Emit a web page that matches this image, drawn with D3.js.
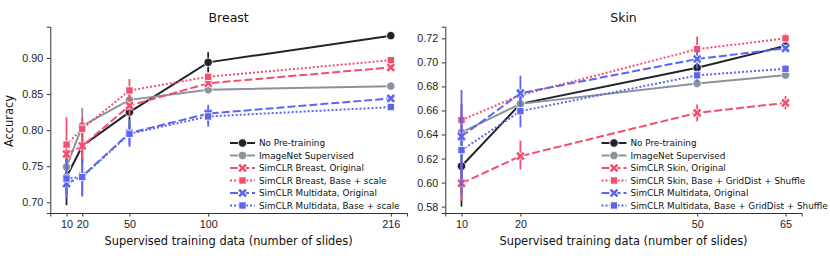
<!DOCTYPE html>
<html>
<head>
<meta charset="utf-8">
<script src="https://cdn.jsdelivr.net/npm/d3@7"></script>
<style>
  body { margin: 0; background: #fff; }
  svg { font-family: "DejaVu Sans", sans-serif; }
  .axis text { font-size: 10.8px; fill: #222; }
  .axis line, .axis path { stroke: #333; stroke-width: 1; }
</style>
</head>
<body>
<svg id="chart" width="830" height="259"></svg>
<script>
// Breast panel
var breastX = [10, 20, 50, 100, 216]
var breastNames = ["No Pre-training", "ImageNet Supervised", "SimCLR Breast, Original",
  "SimCLR Breast, Base + scale", "SimCLR Multidata, Original", "SimCLR Multidata, Base + scale"]
var breastMean = [
  [0.735, 0.778, 0.825, 0.894, 0.931],
  [0.749, 0.806, 0.842, 0.856, 0.861],
  [0.767, 0.778, 0.834, 0.865, 0.887],
  [0.780, 0.802, 0.855, 0.874, 0.897],
  [0.726, 0.736, 0.796, 0.823, 0.844],
  [0.733, 0.735, 0.795, 0.819, 0.832]
]
var breastLo = [
  [0.696, 0.755, 0.800, 0.880, 0.929],
  [0.735, 0.780, 0.835, 0.853, 0.859],
  [0.755, 0.755, 0.820, 0.860, 0.884],
  [0.745, 0.760, 0.840, 0.868, 0.894],
  [0.705, 0.708, 0.777, 0.810, 0.841],
  [0.712, 0.710, 0.780, 0.805, 0.829]
]
var breastHi = [
  [0.765, 0.800, 0.850, 0.908, 0.933],
  [0.765, 0.831, 0.850, 0.860, 0.863],
  [0.780, 0.800, 0.850, 0.870, 0.890],
  [0.818, 0.818, 0.871, 0.880, 0.900],
  [0.750, 0.760, 0.815, 0.835, 0.847],
  [0.760, 0.760, 0.810, 0.830, 0.835]
]
var breastTicks = [0.70, 0.75, 0.80, 0.85, 0.90]

// Skin panel
var skinX = [10, 20, 50, 65]
var skinNames = ["No Pre-training", "ImageNet Supervised", "SimCLR Skin, Original",
  "SimCLR Skin, Base + GridDist + Shuffle", "SimCLR Multidata, Original", "SimCLR Multidata, Base + GridDist + Shuffle"]
var skinMean = [
  [0.6136, 0.6655, 0.6955, 0.7138],
  [0.6417, 0.6655, 0.6825, 0.6894],
  [0.5994, 0.6220, 0.6580, 0.6663],
  [0.6520, 0.6728, 0.7110, 0.7200],
  [0.6383, 0.6744, 0.7028, 0.7117],
  [0.6270, 0.6594, 0.6892, 0.6947]
]
var skinLo = [
  [0.580, 0.660, 0.690, 0.711],
  [0.635, 0.662, 0.679, 0.688],
  [0.585, 0.611, 0.651, 0.661],
  [0.640, 0.668, 0.700, 0.716],
  [0.600, 0.660, 0.695, 0.709],
  [0.590, 0.646, 0.684, 0.691]
]
var skinHi = [
  [0.645, 0.671, 0.700, 0.716],
  [0.648, 0.669, 0.686, 0.691],
  [0.615, 0.635, 0.665, 0.672],
  [0.665, 0.678, 0.7215, 0.724],
  [0.677, 0.689, 0.710, 0.714],
  [0.665, 0.672, 0.694, 0.698]
]
var skinTicks = [0.58, 0.60, 0.62, 0.64, 0.66, 0.68, 0.70, 0.72]

// colores y estilos por serie
var colores = ["#22232d", "#8a929b", "#f0506e", "#f0506e", "#5a66f0", "#5a66f0"]
var dashes = [null, null, "8,3", "2,2", "8,3", "2,2"]
var marcas = ["circle", "circle", "x", "square", "x", "square"]

var svg = d3.select("#chart")

function dibujaMarca(g, tipo, cx, cy, color) {
  if (tipo == "circle") {
    g.append("circle").attr("cx", cx).attr("cy", cy).attr("r", 4.2)
      .attr("fill", color).attr("stroke", "#fff").attr("stroke-width", 0.8)
  } else if (tipo == "square") {
    g.append("rect").attr("x", cx - 3.6).attr("y", cy - 3.6).attr("width", 7.2).attr("height", 7.2)
      .attr("fill", color).attr("stroke", "#fff").attr("stroke-width", 0.8)
  } else {
    var s = 3.4
    var p = "M" + (cx - s) + "," + (cy - s) + "L" + (cx + s) + "," + (cy + s) +
      "M" + (cx - s) + "," + (cy + s) + "L" + (cx + s) + "," + (cy - s)
    g.append("path").attr("d", p).attr("stroke", "#fff").attr("stroke-width", 4.2).attr("fill", "none")
    g.append("path").attr("d", p).attr("stroke", color).attr("stroke-width", 2.6).attr("fill", "none")
  }
}

function panel(opt) {
  var x = d3.scaleLinear().domain(opt.xDom).range([opt.left, opt.right])
  var y = d3.scaleLinear().domain(opt.yDom).range([213, 26.7])
  var g = svg.append("g")

  g.append("g").attr("class", "axis")
    .attr("transform", "translate(0,213)")
    .call(d3.axisBottom(x).tickValues(opt.xs).tickFormat(d3.format("d")).tickSizeOuter(0).tickSize(3.5).tickPadding(3.5))
  g.append("g").attr("class", "axis")
    .attr("transform", "translate(" + opt.left + ",0)")
    .call(d3.axisLeft(y).tickValues(opt.ticks).tickFormat(d3.format(".2f")).tickSizeOuter(0).tickSize(3.5).tickPadding(3.5))

  var line = d3.line().x(function(d) { return x(d[0]) }).y(function(d) { return y(d[1]) })

  for (var i = 0; i < opt.mean.length; i++) {
    var pts = opt.xs.map(function(v, j) { return [v, opt.mean[i][j]] })
    g.append("path").attr("d", line(pts)).attr("fill", "none")
      .attr("stroke", colores[i]).attr("stroke-width", 2)
      .attr("stroke-dasharray", dashes[i])
    for (var j = 0; j < opt.xs.length; j++) {
      g.append("line").attr("x1", x(opt.xs[j])).attr("x2", x(opt.xs[j]))
        .attr("y1", y(opt.lo[i][j])).attr("y2", y(opt.hi[i][j]))
        .attr("stroke", colores[i]).attr("stroke-width", 1.8)
      dibujaMarca(g, marcas[i], x(opt.xs[j]), y(opt.mean[i][j]), colores[i])
    }
  }

  var cx = (opt.left + opt.right) / 2
  g.append("text").attr("x", cx).attr("y", 22).attr("text-anchor", "middle")
    .style("font-size", "12.5px").attr("fill", "#111").text(opt.title)
  g.append("text").attr("x", cx).attr("y", 245).attr("text-anchor", "middle")
    .style("font-size", "11.4px").attr("fill", "#111").text("Supervised training data (number of slides)")

  // leyenda
  var ley = g.append("g")
  for (var k = 0; k < opt.names.length; k++) {
    var ly = 143 + k * 12.5
    ley.append("line").attr("x1", opt.legX).attr("x2", opt.legX + 25).attr("y1", ly).attr("y2", ly)
      .attr("stroke", colores[k]).attr("stroke-width", 2).attr("stroke-dasharray", dashes[k])
    dibujaMarca(ley, marcas[k], opt.legX + 12.5, ly, colores[k])
    ley.append("text").attr("x", opt.legX + 29).attr("y", ly + 3.3)
      .style("font-size", "8.8px").attr("fill", "#111").text(opt.names[k])
  }
}

panel({ title: "Breast", xs: breastX, xDom: [-0.3, 226.3], yDom: [0.6852, 0.9434], left: 50.3, right: 407,
  ticks: breastTicks, mean: breastMean, lo: breastLo, hi: breastHi, names: breastNames, legX: 230 })
panel({ title: "Skin", xs: skinX, xDom: [7.25, 67.75], yDom: [0.5747, 0.7297], left: 445.3, right: 801.7,
  ticks: skinTicks, mean: skinMean, lo: skinLo, hi: skinHi, names: skinNames, legX: 601.5 })

svg.append("text").attr("transform", "translate(13,121) rotate(-90)").attr("text-anchor", "middle")
  .style("font-size", "11.4px").attr("fill", "#111").text("Accuracy")
</script>
</body>
</html>
